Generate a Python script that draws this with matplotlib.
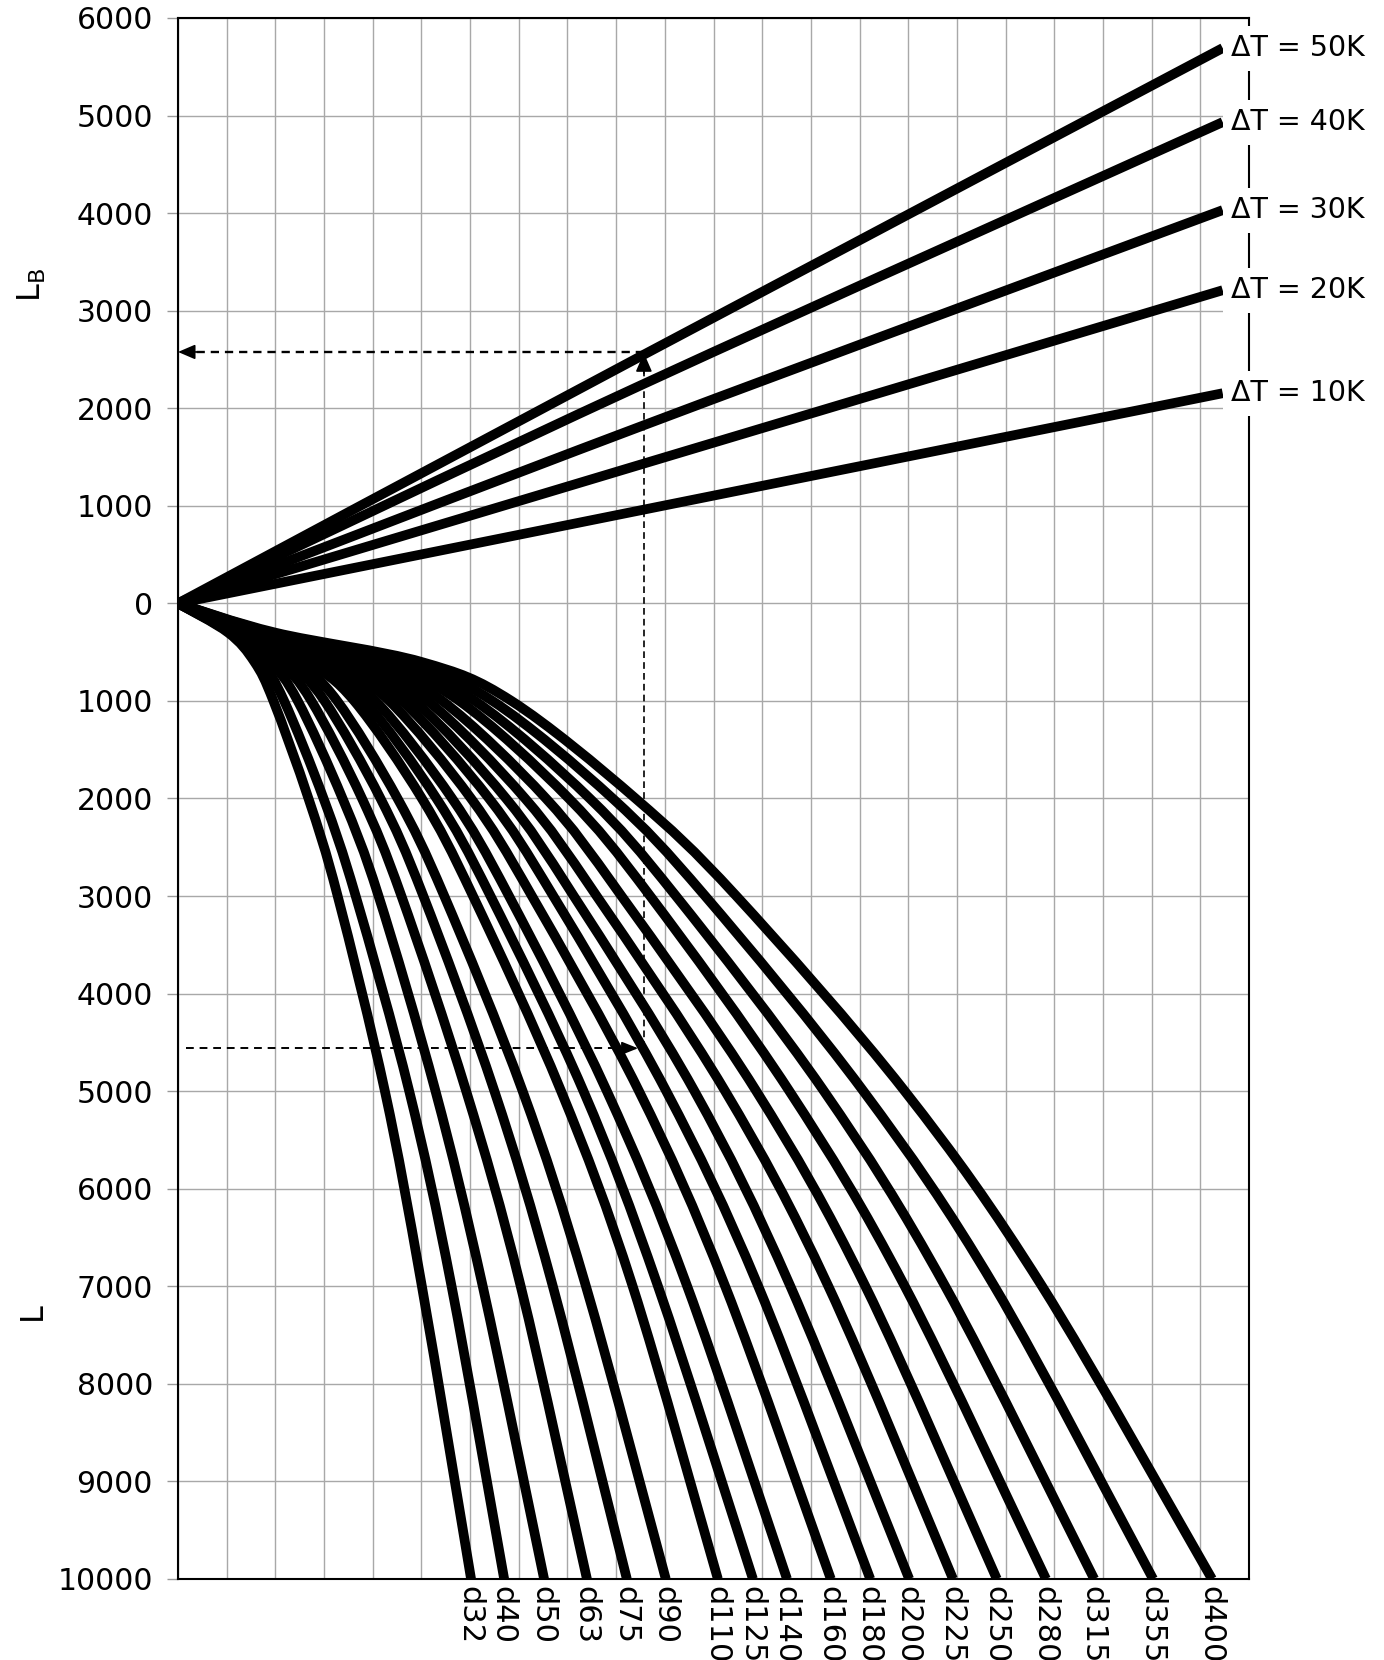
import numpy as np
import matplotlib
matplotlib.use('Agg')
import matplotlib.pyplot as plt
from matplotlib.path import Path
from matplotlib.patches import PathPatch

plt.rcParams['font.family'] = ['DejaVu Sans']
plt.rcParams['mathtext.fontset'] = 'dejavusans'

# ---------------- data ----------------
# upper part: L_B versus x for each temperature difference
dT_names = ['ΔT = 10K', 'ΔT = 20K', 'ΔT = 30K', 'ΔT = 40K', 'ΔT = 50K']
dT_x = [0, 9.57, 21.46]
LB_10K = [0, 961, 2154]
LB_20K = [0, 1433, 3210]
LB_30K = [0, 1826, 4031]
LB_40K = [0, 2250, 4933]
LB_50K = [0, 2550, 5692]

# lower part: L versus x for each pipe diameter
diam_labels = ['d32', 'd40', 'd50', 'd63', 'd75', 'd90', 'd110', 'd125', 'd140',
               'd160', 'd180', 'd200', 'd225', 'd250', 'd280', 'd315', 'd355', 'd400']
L_levels = [0, 300, 600, 1000, 2000, 3000, 5000, 7000, 10000]
x_L0 = [0] * 18
x_L300 = [1.03, 1.07, 1.13, 1.19, 1.24, 1.29, 1.36, 1.40, 1.45, 1.50, 1.55, 1.60, 1.66, 1.72, 1.79, 1.85, 1.92, 2.00]
x_L600 = [1.57, 1.71, 1.89, 2.08, 2.25, 2.42, 2.65, 2.79, 2.93, 3.12, 3.29, 3.45, 3.63, 3.83, 4.08, 4.32, 4.62, 5.00]
x_L1000 = [1.96, 2.18, 2.46, 2.74, 3.01, 3.27, 3.62, 3.83, 4.06, 4.34, 4.60, 4.85, 5.13, 5.43, 5.78, 6.10, 6.46, 6.85]
x_L2000 = [2.68, 2.99, 3.38, 3.78, 4.16, 4.51, 5.01, 5.31, 5.63, 6.02, 6.39, 6.74, 7.13, 7.56, 8.03, 8.46, 8.93, 9.40]
x_L3000 = [3.28, 3.65, 4.12, 4.59, 5.04, 5.47, 6.06, 6.42, 6.80, 7.27, 7.71, 8.13, 8.60, 9.11, 9.70, 10.23, 10.83, 11.47]
x_L5000 = [4.25, 4.75, 5.29, 5.92, 6.50, 7.08, 7.87, 8.33, 8.81, 9.47, 10.03, 10.61, 11.24, 11.88, 12.56, 13.27, 14.08, 14.93]
x_L7000 = [5.01, 5.62, 6.26, 7.04, 7.70, 8.38, 9.34, 9.86, 10.46, 11.24, 11.92, 12.58, 13.36, 14.12, 14.93, 15.76, 16.77, 17.75]
x_L10000 = [6.02, 6.70, 7.52, 8.40, 9.22, 10.02, 11.09, 11.81, 12.51, 13.41, 14.22, 15.02, 15.92, 16.82, 17.83, 18.82, 20.03, 21.24]

# worked example (dashed arrows)
ex_x = 9.57
ex_LB = 2577
ex_L = 4560
ex_start_x = 0.16
ex_tip_x = 9.45

yticks = list(range(-10000, 6001, 1000))

# ---------------- helpers ----------------
def smooth_path(xs, ys):
    P = np.column_stack([xs, ys]).astype(float)
    n = len(P)
    verts = [P[0]]
    codes = [Path.MOVETO]
    for i in range(n - 1):
        p0 = P[i - 1] if i > 0 else P[i]
        p1 = P[i]
        p2 = P[i + 1]
        p3 = P[i + 2] if i + 2 < n else P[i + 1]
        c1 = p1 + (p2 - p0) / 6.0
        c2 = p2 - (p3 - p1) / 6.0
        verts += [c1, c2, p2]
        codes += [Path.CURVE4] * 3
    return Path(verts, codes)

# ---------------- figure ----------------
W, H = 1384, 1660
fig = plt.figure(figsize=(W / 100, H / 100), dpi=100)
left, right, top, bottom = 178, 1249, 18, 1579
ax = fig.add_axes([left / W, 1 - bottom / H, (right - left) / W, (bottom - top) / H])
ax.set_xlim(0, 22)
ax.set_ylim(-10000, 6000)

ax.set_xticks(range(0, 23))
ax.set_yticks(yticks)
ax.set_yticklabels([str(abs(v)) for v in yticks], fontsize=21.5)
ax.tick_params(axis='x', length=0, labelbottom=False)
ax.tick_params(axis='y', length=8, width=1.0, color='#999999', pad=10)
ax.grid(True, color='#a8a8a8', lw=1.0)
ax.set_axisbelow(True)
for s in ax.spines.values():
    s.set_linewidth(1.5)
    s.set_color('black')
    s.set_zorder(3)

LW = 7.0
# upper lines
series_LB = [LB_10K, LB_20K, LB_30K, LB_40K, LB_50K]
for name, vals in zip(dT_names, series_LB):
    p = smooth_path(dT_x, vals)
    ax.add_patch(PathPatch(p, fill=False, lw=LW, edgecolor='black', capstyle='butt',
                           joinstyle='round', zorder=4))
    ax.text(21.64, vals[-1], name, fontsize=20.5, va='center', ha='left', zorder=6,
            clip_on=False,
            bbox=dict(boxstyle='square,pad=0.3', facecolor='white', edgecolor='none'))

# lower curves
levels_x = [x_L0, x_L300, x_L600, x_L1000, x_L2000, x_L3000, x_L5000, x_L7000, x_L10000]
for i, lab in enumerate(diam_labels):
    xs = [lv[i] for lv in levels_x]
    ys = [-v for v in L_levels]
    p = smooth_path(xs, ys)
    ax.add_patch(PathPatch(p, fill=False, lw=LW, edgecolor='black', capstyle='butt',
                           joinstyle='round', zorder=4))
    ax.annotate(lab, xy=(xs[-1], -10000), xytext=(-1, -5), textcoords='offset points',
                rotation=-90, ha='center', va='top', fontsize=22, annotation_clip=False)

# dashed example
ax.plot([ex_start_x, ex_tip_x - 0.25], [-ex_L, -ex_L], color='black', lw=1.4,
        linestyle=(0, (4, 3)), zorder=5)
ax.annotate('', xy=(ex_tip_x, -ex_L), xytext=(ex_tip_x - 0.3, -ex_L),
            arrowprops=dict(arrowstyle='-|>,head_length=1.0,head_width=0.4', color='black',
                            lw=1.2, shrinkA=0, shrinkB=0), zorder=5)
ax.plot([ex_x, ex_x], [-ex_L, ex_LB - 200], color='black', lw=1.2,
        linestyle=(0, (4, 2.5)), zorder=5)
ax.annotate('', xy=(ex_x, ex_LB - 10), xytext=(ex_x, ex_LB - 220),
            arrowprops=dict(arrowstyle='-|>,head_length=1.15,head_width=0.5', color='black',
                            lw=1.2, shrinkA=0, shrinkB=0), zorder=5)
ax.plot([ex_x, 0.3], [ex_LB, ex_LB], color='black', lw=1.7,
        linestyle=(0, (3.5, 2.5)), zorder=5)
ax.annotate('', xy=(0.0, ex_LB), xytext=(0.4, ex_LB),
            arrowprops=dict(arrowstyle='-|>,head_length=1.05,head_width=0.45', color='black',
                            lw=1.2, shrinkA=0, shrinkB=0), zorder=5, annotation_clip=False)

# axis titles
fig.text(32 / W, 1 - 285 / H, r'L$_{\mathrm{B}}$', rotation=90, ha='center', va='center', fontsize=23)
fig.text(32 / W, 1 - 1311 / H, 'L', rotation=90, ha='center', va='center', fontsize=23)

fig.savefig('out.png', dpi=100)
